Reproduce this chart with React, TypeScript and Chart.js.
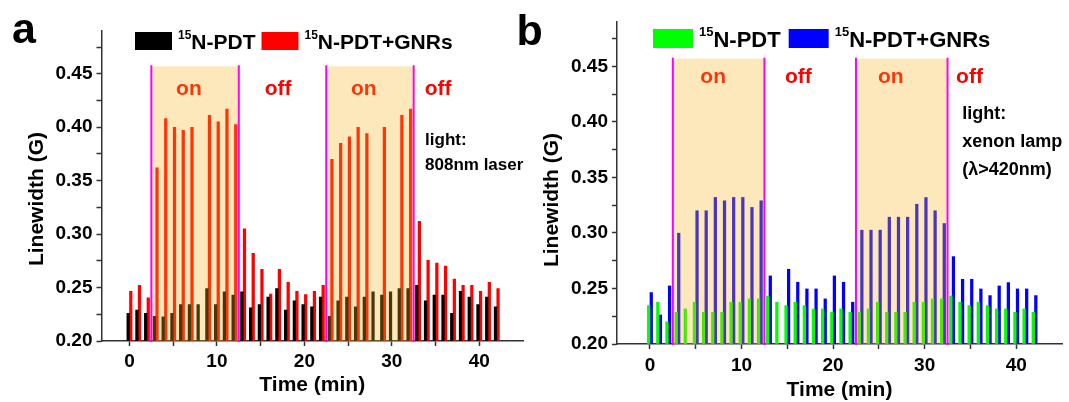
import React, { useEffect, useRef } from 'react';
import { Chart, registerables } from 'chart.js';

Chart.register(...registerables);

const FONT = 'Arial, "Liberation Sans", Helvetica, sans-serif';

// ---- data ----
const times = [0, 1, 2, 3, 4, 5, 6, 7, 8, 9, 10, 11, 12, 13, 14, 15, 16, 17, 18, 19, 20, 21, 22, 23, 24, 25, 26, 27, 28, 29, 30, 31, 32, 33, 34, 35, 36, 37, 38, 39, 40, 41, 42];

// panel a: 808nm laser
const pdtA = [0.226, 0.229, 0.226, 0.223, 0.2225, 0.226, 0.234, 0.234, 0.234, 0.249, 0.234, 0.246, 0.243, 0.246, 0.231, 0.234, 0.241, 0.249, 0.229, 0.2375, 0.234, 0.232, 0.241, 0.223, 0.2375, 0.241, 0.232, 0.241, 0.246, 0.243, 0.246, 0.249, 0.249, 0.252, 0.2375, 0.243, 0.243, 0.226, 0.2465, 0.241, 0.234, 0.241, 0.232];
const gnrA = [0.2465, 0.252, 0.2405, 0.362, 0.408, 0.4, 0.397, 0.4, null, 0.411, 0.405, 0.417, 0.4025, 0.305, 0.282, 0.267, 0.244, 0.267, 0.255, 0.2465, 0.2435, 0.2465, 0.252, 0.37, 0.385, 0.391, 0.4, 0.394, null, 0.4, null, 0.411, 0.417, 0.312, 0.2755, 0.273, 0.27, 0.258, 0.252, 0.252, 0.2465, 0.255, 0.249];

// panel b: xenon lamp
const pdtB = [0.2346, 0.2376, 0.22, 0.2285, 0.2316, 0.2376, 0.2285, 0.2285, 0.2285, 0.2376, 0.2376, 0.2406, 0.2406, 0.2433, 0.2376, 0.2346, 0.2376, 0.2346, 0.2316, 0.2316, 0.2285, 0.2316, 0.2285, 0.2285, 0.2316, 0.2376, 0.2285, 0.2285, 0.2285, 0.2376, 0.2376, 0.2406, 0.2406, 0.2433, 0.2376, 0.2346, 0.2376, 0.2346, 0.2316, 0.2316, 0.2285, 0.2316, 0.2285];
const gnrB = [0.2463, 0.2261, 0.2523, 0.2998, null, 0.32, 0.32, 0.332, 0.329, 0.332, 0.332, 0.323, 0.329, 0.2613, null, 0.2673, 0.2556, 0.2496, 0.2496, 0.2406, 0.2613, 0.2556, 0.2376, 0.3025, 0.3025, 0.3025, 0.3142, 0.3142, 0.3142, 0.3259, 0.3319, 0.32, 0.3085, 0.2787, 0.2583, 0.2583, 0.2496, 0.2436, 0.2523, 0.2553, 0.2496, 0.2496, 0.2436];

const xTicks = [0, 5, 10, 15, 20, 25, 30, 35, 40];
const yTicks = [0.2, 0.225, 0.25, 0.275, 0.3, 0.325, 0.35, 0.375, 0.4, 0.425, 0.45, 0.475];
const onStart = [2.5, 22.5];
const onEnd = [12.5, 32.5];
const shadeTop = 0.457;
const seriesNames = ['N-PDT', 'N-PDT+GNRs'];
const isotope = '15';
const notesA = ['light:', '808nm laser'];
const notesB = ['light:', 'xenon lamp', '(\u03bb>420nm)'];

type Panel = {
  letter: string;
  left: number;
  width: number;
  padTop: number;
  padRight: number;
  yAxisW: number;
  xAxisH: number;
  xMin: number;
  pdt: (number | null)[];
  gnr: (number | null)[];
  colors: [string, string];
  onX: number[];
  offX: number[];
  markY: number;
  notes: string[];
  noteX: number;
  noteBase: number[];
  noteFont: number;
  legendX: number;
  legendY: number;
  boxW: number;
  boxH: number;
  legendFont: number;
  legendGap: number;
  letterX: number;
  letterY: number;
  yTitleX: number;
  yTitleY: number;
  xTickPad: number;
  xTitlePad: number;
};

const panels: Panel[] = [
  {
    letter: 'a', left: 0, width: 530, padTop: 31, padRight: 7, yAxisW: 101.5, xAxisH: 61, xMin: -3.2,
    pdt: pdtA, gnr: gnrA, colors: ['#000000', '#ff0000'],
    onX: [6.8, 26.8], offX: [17.0, 35.3], markY: 0.436,
    notes: notesA, noteX: 33.8, noteBase: [145, 170], noteFont: 17,
    legendX: 135, legendY: 32, boxW: 37, boxH: 18, legendFont: 21, legendGap: 6,
    letterX: 12, letterY: 43, yTitleX: 37, yTitleY: 199, xTickPad: 4, xTitlePad: 6,
  },
  {
    letter: 'b', left: 505, width: 564, padTop: 22, padRight: 7, yAxisW: 112, xAxisH: 58, xMin: -3.6,
    pdt: pdtB, gnr: gnrB, colors: ['#00ff00', '#0000ff'],
    onX: [6.9, 26.3], offX: [16.2, 34.9], markY: 0.44,
    notes: notesB, noteX: 34.1, noteBase: [119, 147, 175], noteFont: 18,
    legendX: 148, legendY: 29, boxW: 40, boxH: 19, legendFont: 22, legendGap: 8,
    letterX: 11.5, letterY: 45, yTitleX: 47, yTitleY: 200, xTickPad: 5, xTitlePad: 1,
  },
];

function makeAnnot(p: Panel) {
  return {
    id: 'annot' + p.letter,
    afterDatasetsDraw(chart: any) {
      const { ctx } = chart;
      const x = chart.scales.x;
      const y = chart.scales.y;
      ctx.save();
      // "on" labels (beneath shading)
      ctx.font = `bold 21px ${FONT}`;
      ctx.textAlign = 'center';
      ctx.textBaseline = 'middle';
      ctx.fillStyle = '#ff0000';
      p.onX.forEach((t) => ctx.fillText('on', x.getPixelForValue(t), y.getPixelForValue(p.markY)));
      // shading
      ctx.fillStyle = 'rgba(245,180,30,0.3)';
      const yt = y.getPixelForValue(shadeTop);
      const yb = y.getPixelForValue(0.2);
      onStart.forEach((s, i) => {
        const x0 = x.getPixelForValue(s);
        const x1 = x.getPixelForValue(onEnd[i]);
        ctx.fillRect(x0, yt, x1 - x0, yb - yt);
      });
      // magenta boundaries
      ctx.strokeStyle = '#ff00ff';
      ctx.lineWidth = 2;
      [...onStart, ...onEnd].forEach((s) => {
        const px = x.getPixelForValue(s);
        ctx.beginPath();
        ctx.moveTo(px, yt - 1);
        ctx.lineTo(px, yb + 1);
        ctx.stroke();
      });
      // "off" labels
      ctx.fillStyle = '#ff0000';
      p.offX.forEach((t) => ctx.fillText('off', x.getPixelForValue(t), y.getPixelForValue(p.markY)));
      // light notes
      ctx.fillStyle = '#000';
      ctx.textAlign = 'left';
      ctx.textBaseline = 'alphabetic';
      ctx.font = `bold ${p.noteFont}px ${FONT}`;
      p.notes.forEach((s, i) => ctx.fillText(s, x.getPixelForValue(p.noteX), p.noteBase[i]));
      // legend
      let lx = p.legendX;
      const base = p.legendY + p.boxH - 1;
      seriesNames.forEach((name, i) => {
        ctx.fillStyle = p.colors[i];
        ctx.fillRect(lx, p.legendY, p.boxW, p.boxH);
        lx += p.boxW + 6;
        ctx.fillStyle = '#000';
        ctx.font = `bold ${Math.round(p.legendFont * 0.58)}px ${FONT}`;
        ctx.fillText(isotope, lx, base - p.legendFont * 0.5);
        lx += ctx.measureText(isotope).width;
        ctx.font = `bold ${p.legendFont}px ${FONT}`;
        ctx.fillText(name, lx, base);
        lx += ctx.measureText(name).width + p.legendGap;
      });
      // panel letter
      ctx.font = `bold 43px ${FONT}`;
      ctx.fillText(p.letter, p.letterX, p.letterY);
      // y title
      ctx.save();
      ctx.translate(p.yTitleX, p.yTitleY);
      ctx.rotate(-Math.PI / 2);
      ctx.textAlign = 'center';
      ctx.textBaseline = 'middle';
      ctx.font = `bold 21px ${FONT}`;
      ctx.fillText('Linewidth (G)', 0, 0);
      ctx.restore();
      ctx.restore();
    },
  };
}

function ChartPanel({ p }: { p: Panel }) {
  const ref = useRef<HTMLCanvasElement | null>(null);
  useEffect(() => {
    if (!ref.current) return;
    const tickFont = { family: FONT, size: 19, weight: 'bold' as const };
    const chart = new Chart(ref.current, {
      type: 'bar',
      data: {
        datasets: [
          {
            label: seriesNames[0],
            data: times.map((t, i) => ({ x: t, y: p.pdt[i] })) as any,
            backgroundColor: p.colors[0],
            barThickness: 2.6,
            base: 0.2,
            borderWidth: 0,
          },
          {
            label: seriesNames[1],
            data: times.map((t, i) => ({ x: t, y: p.gnr[i] })) as any,
            backgroundColor: p.colors[1],
            barThickness: 2.6,
            base: 0.2,
            borderWidth: 0,
          },
        ],
      },
      options: {
        animation: false,
        responsive: false,
        devicePixelRatio: 1,
        layout: { padding: { top: p.padTop, right: p.padRight, left: 0, bottom: 0 } },
        plugins: { legend: { display: false }, tooltip: { enabled: false } },
        scales: {
          x: {
            type: 'linear',
            min: p.xMin,
            max: 45,
            offset: false,
            afterBuildTicks: (s: any) => {
              s.ticks = xTicks.map((v) => ({ value: v }));
            },
            afterFit: (s: any) => {
              s.height = p.xAxisH;
            },
            grid: { display: true, offset: false, drawOnChartArea: false, drawTicks: true, tickLength: 5, tickColor: '#333', tickWidth: 1.5 },
            border: { display: true, color: '#333', width: 1.5 },
            ticks: {
              autoSkip: false,
              maxRotation: 0,
              padding: p.xTickPad,
              color: '#000',
              font: tickFont,
              callback: (v: any) => (Number(v) % 10 === 0 ? String(v) : ''),
            },
            title: {
              display: true,
              text: 'Time (min)',
              color: '#000',
              font: { family: FONT, size: 21, weight: 'bold', lineHeight: 1 },
              padding: { top: 0, bottom: p.xTitlePad },
            },
          },
          y: {
            type: 'linear',
            min: 0.2,
            max: 0.49,
            beginAtZero: false,
            afterBuildTicks: (s: any) => {
              s.ticks = yTicks.map((v) => ({ value: v }));
            },
            afterFit: (s: any) => {
              s.width = p.yAxisW;
            },
            grid: { display: true, drawOnChartArea: false, drawTicks: true, tickLength: 5, tickColor: '#333', tickWidth: 1.5 },
            border: { display: true, color: '#333', width: 1.5 },
            ticks: {
              autoSkip: false,
              padding: 4,
              color: '#000',
              font: tickFont,
              callback: (v: any) => {
                const n = Number(v) * 20;
                return Math.abs(n - Math.round(n)) < 1e-6 ? Number(v).toFixed(2) : '';
              },
            },
          },
        },
      },
      plugins: [makeAnnot(p)],
    } as any);
    return () => chart.destroy();
  }, [p]);
  return (
    <canvas
      ref={ref}
      width={p.width}
      height={402}
      style={{ position: 'absolute', left: p.left, top: 0, width: p.width, height: 402 }}
    />
  );
}

export default function App() {
  useEffect(() => {
    document.body.style.margin = '0';
  }, []);
  return (
    <div style={{ position: 'absolute', left: 0, top: 0, width: 1069, height: 402, background: '#fff', overflow: 'hidden' }}>
      {panels.map((p) => (
        <ChartPanel key={p.letter} p={p} />
      ))}
    </div>
  );
}
